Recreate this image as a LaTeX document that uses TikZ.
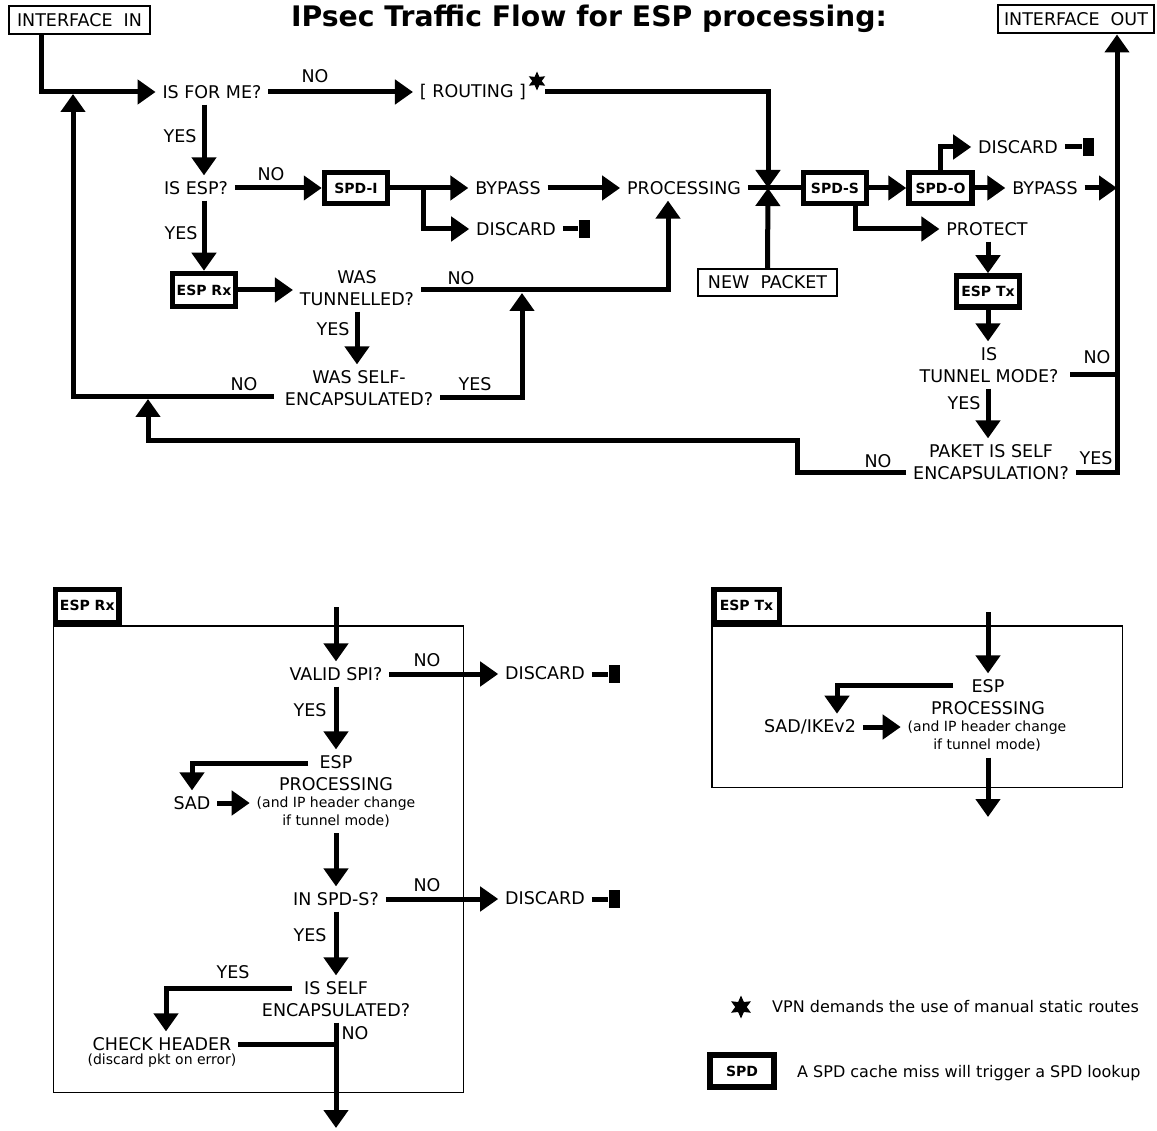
\documentclass[tikz,border=0pt]{standalone}
\usepackage{fontspec}
\setmainfont{DejaVu Sans}
\usetikzlibrary{arrows.meta,shapes.geometric,calc}
\begin{document}
\begin{tikzpicture}[x=1pt,y=-1pt,
 txt/.style={inner sep=0pt,outer xsep=7pt,outer ysep=6pt,align=center,font=\fontsize{17.5}{22}\selectfont},
 notetxt/.style={inner sep=0pt,outer xsep=7pt,outer ysep=6pt,align=center,font=\fontsize{14}{18}\selectfont},
 lbl/.style={inner sep=0pt,font=\fontsize{17.5}{22}\selectfont},
 legtxt/.style={inner sep=0pt,anchor=base west,font=\fontsize{16}{20}\selectfont},
 spdbox/.style={draw,line width=5.5pt,fill=white,inner sep=0pt,minimum width=63pt,minimum height=31pt,font=\bfseries\fontsize{14}{16}\selectfont},
 ifbox/.style={draw,line width=2pt,fill=white,inner sep=0pt,minimum height=28pt,font=\fontsize{17.5}{22}\selectfont},
 framebox/.style={draw,line width=1.5pt,inner sep=0pt},
 conn/.style={line width=5pt,-{Triangle[length=18pt,width=24pt]}},
 wire/.style={line width=5pt},
 termbar/.style={fill,inner sep=0pt,minimum width=11pt,minimum height=18pt},
 starsym/.style={star,star points=6,star point ratio=2,fill,inner sep=0pt}
]
\fill[white] (0,0) rectangle (1157,1131);
\useasboundingbox (0,0) rectangle (1157,1131);

% ---------- title and interfaces ----------
\node[inner sep=0pt,font=\bfseries\fontsize{28.3}{34}\selectfont] (title) at (589,19) {IPsec Traffic Flow for ESP processing:};
\node[ifbox,minimum width=141pt] (inin) at (79.5,20) {INTERFACE\ \ IN};
\node[ifbox,minimum width=156pt] (inout) at (1076,19.5) {INTERFACE\ \ OUT};

% ---------- upper flow nodes ----------
\node[txt] (isforme) at (212,92) {IS FOR ME?};
\node[txt] (routing) at (473,92) {[ ROUTING ]};
\node[starsym,minimum size=19pt] (st1) at (537,81) {};
\node[txt] (isesp) at (196,188) {IS ESP?};
\node[spdbox] (spdi) at (356,188) {SPD-I};
\node[txt] (bypass1) at (508,188) {BYPASS};
\node[txt] (discard1) at (516,229) {DISCARD};
\node[termbar] (t1) at (584,229) {};
\node[txt] (processing) at (684,188) {PROCESSING};
\coordinate (junc) at (768,188);
\node[spdbox] (spds) at (835,188) {SPD-S};
\node[spdbox] (spdo) at (940.5,188) {SPD-O};
\node[txt] (bypass2) at (1045,188) {BYPASS};
\node[txt] (discard2) at (1018,147) {DISCARD};
\node[termbar] (t2) at (1088,147) {};
\node[txt] (protect) at (987,229) {PROTECT};
\node[spdbox] (esptx) at (988,291.5) {ESP Tx};
\node[txt] (istunnel) at (989,365) {IS\\TUNNEL MODE?};
\node[txt] (paket) at (991,462) {PAKET IS SELF\\ENCAPSULATION?};
\node[ifbox,minimum width=139pt,minimum height=27pt] (newpacket) at (767.5,282.5) {NEW\ \ PACKET};
\node[spdbox,minimum height=33pt] (esprx) at (204,290) {ESP Rx};
\node[txt] (wastun) at (357,288) {WAS\\TUNNELLED?};
\node[txt] (wasself) at (359,388) {WAS SELF-\\ENCAPSULATED?};
\coordinate (vout) at (1117,472);
\coordinate (lp) at (73,94);
\coordinate (jp) at (522,293);
\coordinate (r1) at (797,441);
\coordinate (r2) at (148,399);

% ---------- upper flow connectors ----------
\draw[conn] ($(inin.south west)+(33,0)$) |- (isforme.west);
\draw[conn] (isforme.east) -- (routing.west);
\draw[conn] ($(st1.east |- routing.east)+(3,0)$) -| (junc);
\draw[conn] (isforme.south -| esprx.north) -- (isesp.north -| esprx.north);
\draw[conn] (isesp.east) -- (spdi.west);
\draw[conn] (spdi.east) -- (bypass1.west);
\draw[conn] ($(spdi.east)+(33,0)$) |- (discard1.west);
\draw[wire] (discard1.east) -- (discard1.east -| t1.west);
\draw[conn] (bypass1.east) -- (processing.west);
\draw[wire] (processing.east) -- (spds.west);
\draw[conn] (newpacket.north) -- (junc);
\draw[conn] (spds.east) -- (spdo.west);
\draw[conn] (spdo.east) -- (bypass2.west);
\draw[conn] (bypass2.east) -- (bypass2.east -| vout);
\draw[conn] (spdo.north) |- (discard2.west);
\draw[wire] (discard2.east) -- (discard2.east -| t2.west);
\draw[conn] ($(spds.south)+(20,0)$) |- (protect.west);
\draw[conn] (protect.south -| esptx.north) -- (esptx.north);
\draw[conn] (esptx.south) -- (esptx.south |- istunnel.north);
\draw[wire] ($(istunnel.east)+(5,10)$) -- ($(istunnel.east -| vout)+(0,10)$);
\draw[conn] (istunnel.south -| esptx.south) -- (esptx.south |- paket.north);
\draw[conn] ($(paket.east)+(0,10)$) -| (vout |- inout.south);
\draw[conn] ($(paket.west)+(0,10)$) -| (r1) -| (r2);
\draw[conn] (isesp.south -| esprx.north) -- (esprx.north);
\draw[conn] (esprx.east) -- (esprx.east -| wastun.west);
\draw[conn] ($(wastun.east)+(0,2)$) -| ($(processing.south)+(-16,0)$);
\draw[conn] (wastun.south) -- (wastun.south |- wasself.north);
\draw[conn] ($(wasself.west)+(-4,9)$) -| (lp);
\draw[conn] ($(wasself.east)+(0,10)$) -| (jp);

% ---------- upper labels ----------
\node[lbl] (l1) at (315,76) {NO};
\node[lbl] (l2) at (180,136) {YES};
\node[lbl] (l3) at (271,174) {NO};
\node[lbl] (l4) at (181,233) {YES};
\node[lbl] (l5) at (461,278) {NO};
\node[lbl] (l6) at (333,329) {YES};
\node[lbl] (l7) at (244,384) {NO};
\node[lbl] (l8) at (475,384) {YES};
\node[lbl] (l9) at (1097,357) {NO};
\node[lbl] (l10) at (964,403) {YES};
\node[lbl] (l11) at (878,461) {NO};
\node[lbl] (l12) at (1096,458) {YES};

% ---------- ESP Rx detail ----------
\node[framebox,minimum width=410pt,minimum height=466.5pt] (rxframe) at (258.5,859) {};
\node[spdbox,minimum width=63.5pt,minimum height=33pt,anchor=south west] (rxtab) at (rxframe.north west) {ESP Rx};
\coordinate (rxin) at (336,607);
\node[txt] (validspi) at (336,674) {VALID SPI?};
\node[txt] (discard3) at (545,673) {DISCARD};
\node[termbar] (t3) at (614,674) {};
\node[txt] (espproc1) at (336,773) {ESP\\PROCESSING};
\node[notetxt] (note1) at (336,812) {(and IP header change\\if tunnel mode)};
\node[txt] (sad) at (192,803) {SAD};
\node[txt] (inspds) at (336,899) {IN SPD-S?};
\node[txt] (discard4) at (545,898) {DISCARD};
\node[termbar] (t4) at (614,899) {};
\node[txt] (isself) at (336,999) {IS SELF\\ENCAPSULATED?};
\node[txt] (checkh) at (162,1044) {CHECK HEADER};
\node[notetxt] (checkn) at (162,1061) {(discard pkt on error)};
\coordinate (rxout) at (336,1128);

\draw[conn] (rxin) -- (validspi.north);
\draw[conn] (validspi.east) -- (validspi.east -| discard3.west);
\draw[wire] (discard3.east |- t3.west) -- (t3.west);
\draw[conn] (validspi.south) -- (espproc1.north);
\draw[conn] ($(espproc1.center)+(-28,-10)$) -| (sad.north);
\draw[conn] (sad.east) -- (sad.east -| note1.west);
\draw[conn] (note1.south) -- (inspds.north);
\draw[conn] (inspds.east) -- (inspds.east -| discard4.west);
\draw[wire] (discard4.east |- t4.west) -- (t4.west);
\draw[conn] (inspds.south) -- (isself.north);
\draw[conn] ($(isself.center)+(-44,-11)$) -| ($(checkh.north)+(4,0)$);
\draw[wire] (checkh.east) -- (checkh.east -| rxout);
\draw[conn] (isself.south) -- (rxout);

\node[lbl] (l13) at (427,660) {NO};
\node[lbl] (l14) at (310,710) {YES};
\node[lbl] (l15) at (427,885) {NO};
\node[lbl] (l16) at (310,935) {YES};
\node[lbl] (l17) at (233,972) {YES};
\node[lbl] (l18) at (355,1033) {NO};

% ---------- ESP Tx detail ----------
\node[framebox,minimum width=410.5pt,minimum height=161.5pt] (txframe) at (917,706.5) {};
\node[spdbox,minimum width=65.5pt,minimum height=33pt,anchor=south west] (txtab) at (txframe.north west) {ESP Tx};
\coordinate (txin) at (988,612);
\node[txt] (espproc2) at (988,697) {ESP\\PROCESSING};
\node[notetxt] (note2) at (987,736.5) {(and IP header change\\if tunnel mode)};
\node[txt] (sadike) at (810,727) {SAD/IKEv2};
\coordinate (txout) at (988,817);
\draw[conn] (txin) -- (espproc2.north);
\draw[conn] ($(espproc2.center)+(-35,-12)$) -| ($(sadike.north)+(27,0)$);
\draw[conn] (sadike.east) -- (sadike.east -| note2.west);
\draw[conn] (note2.south -| txout) -- (txout);

% ---------- legend ----------
\node[starsym,minimum size=23pt] (st2) at (741,1007) {};
\node[legtxt] (leg1) at (772,1012) {VPN demands the use of manual static routes};
\node[spdbox,minimum width=64pt,minimum height=32pt] (spdleg) at (742,1071) {SPD};
\node[legtxt] (leg2) at (797,1077) {A SPD cache miss will trigger a SPD lookup};
\end{tikzpicture}
\end{document}
